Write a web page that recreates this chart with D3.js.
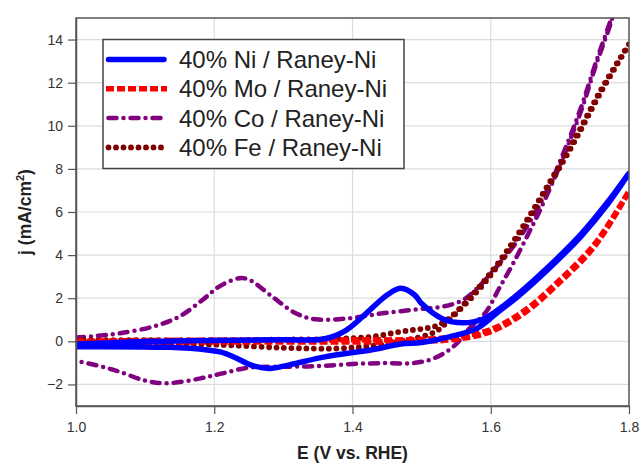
<!DOCTYPE html>
<html>
<head>
<meta charset="utf-8">
<script src="https://cdn.jsdelivr.net/npm/d3@7"></script>
<style>
  body { margin: 0; background: #fff; }
  text { font-family: "Liberation Sans", Arial, sans-serif; }
</style>
</head>
<body>
<script>
// Cyclic voltammograms: [E (V vs. RHE), j (mA/cm2)],
// anodic sweep first, then the return sweep
var niLoop = [
  [1.00, -0.12], [1.05, -0.06], [1.10, -0.01], [1.20, 0.04], [1.30, 0.07], [1.36, 0.12],
  [1.39, 0.5], [1.42, 1.3], [1.45, 2.15], [1.47, 2.46], [1.49, 2.15], [1.50, 1.75],
  [1.53, 1.05], [1.56, 0.86], [1.59, 1.05], [1.61, 1.45], [1.64, 2.2], [1.68, 3.35],
  [1.73, 4.95], [1.77, 6.5], [1.80, 7.8],
  [1.77, 6.4], [1.73, 4.85], [1.68, 3.25], [1.64, 2.1], [1.61, 1.35], [1.58, 0.6],
  [1.54, 0.21], [1.50, -0.05], [1.47, -0.12], [1.43, -0.38], [1.36, -0.72], [1.31, -1.08],
  [1.28, -1.26], [1.255, -1.12], [1.23, -0.75], [1.21, -0.5], [1.19, -0.4], [1.135, -0.28],
  [1.00, -0.25]
];
var moLoop = [
  [1.00, 0.0], [1.10, 0.04], [1.20, 0.05], [1.30, 0.06], [1.40, 0.07], [1.50, 0.09],
  [1.55, 0.22], [1.60, 0.55], [1.65, 1.45], [1.70, 2.85], [1.75, 4.5], [1.80, 6.96],
  [1.75, 4.4], [1.70, 2.75], [1.65, 1.35], [1.60, 0.45], [1.55, 0.1], [1.50, 0.0],
  [1.40, -0.03], [1.20, -0.03], [1.00, -0.05]
];
var coLoop = [
  [1.00, 0.18], [1.03, 0.25], [1.063, 0.37], [1.111, 0.68], [1.149, 1.14], [1.183, 1.92],
  [1.207, 2.54], [1.236, 2.93], [1.251, 2.85], [1.284, 2.07], [1.318, 1.3], [1.347, 1.02],
  [1.395, 1.07], [1.443, 1.3], [1.496, 1.49], [1.53, 1.61], [1.559, 1.9], [1.58, 2.45],
  [1.602, 3.22], [1.641, 4.77], [1.68, 6.9], [1.713, 9.36], [1.733, 11.07], [1.752, 12.93],
  [1.774, 14.94], [1.785, 16.0],
  [1.774, 14.8], [1.752, 12.8], [1.733, 10.9], [1.713, 9.2], [1.694, 7.7], [1.67, 6.0],
  [1.651, 4.77], [1.631, 3.53], [1.612, 2.45], [1.593, 1.36], [1.569, 0.59], [1.545, -0.27],
  [1.516, -0.81], [1.487, -1.01], [1.448, -1.01], [1.40, -1.05], [1.35, -1.15], [1.30, -1.18],
  [1.25, -1.22], [1.21, -1.5], [1.18, -1.72], [1.13, -1.95], [1.10, -1.82], [1.063, -1.41],
  [1.038, -1.18], [1.00, -0.9]
];
var feLoop = [
  [1.00, 0.05], [1.10, 0.05], [1.20, 0.05], [1.30, 0.08], [1.38, 0.12], [1.43, 0.22],
  [1.47, 0.45], [1.50, 0.58], [1.52, 0.7], [1.54, 1.07], [1.58, 2.4], [1.61, 3.6],
  [1.64, 5.0], [1.68, 7.1], [1.72, 9.3], [1.76, 11.7], [1.80, 13.78],
  [1.76, 11.6], [1.72, 9.2], [1.68, 7.0], [1.64, 4.9], [1.61, 3.5], [1.58, 2.3],
  [1.54, 1.0], [1.52, 0.45], [1.47, 0.0], [1.43, -0.2], [1.38, -0.33], [1.30, -0.3],
  [1.20, -0.15], [1.10, -0.1], [1.00, -0.05]
];

var seriesNames = ["40% Ni / Raney-Ni", "40% Mo / Raney-Ni", "40% Co / Raney-Ni", "40% Fe / Raney-Ni"];
var xTicks = [1.0, 1.2, 1.4, 1.6, 1.8];
var yTicks = [-2, 0, 2, 4, 6, 8, 10, 12, 14];

var styles = [
  { color: "#0000ff", width: 5.5, dash: null, cap: "round" },
  { color: "#ff0000", width: 5.5, dash: "8 3", cap: "butt" },
  { color: "#800080", width: 4.5, dash: "8 7 0 7", cap: "round" },
  { color: "#800000", width: 5.8, dash: "0 7.5", cap: "round" }
];
var loops = [niLoop, moLoop, coLoop, feLoop];

var margin = { top: 18, right: 11, bottom: 58, left: 76 },
  width = 640 - margin.left - margin.right,
  height = 464 - margin.top - margin.bottom;

var x = d3.scaleLinear().domain([1.0, 1.8]).range([0, width]);
var y = d3.scaleLinear().domain([-3, 15]).range([height, 0]);

var svg = d3.select("body").append("svg")
  .attr("width", 640)
  .attr("height", 464)
  .append("g")
  .attr("transform", "translate(" + margin.left + "," + margin.top + ")");

svg.append("defs").append("clipPath")
  .attr("id", "plotClip")
  .append("rect")
  .attr("width", width)
  .attr("height", height);

// grid
svg.append("g").selectAll("line.h")
  .data(yTicks)
  .enter().append("line")
  .attr("x1", 0).attr("x2", width)
  .attr("y1", function(d) { return y(d); })
  .attr("y2", function(d) { return y(d); })
  .style("stroke", "#dcdcdc").style("stroke-width", 1.2);
svg.append("g").selectAll("line.v")
  .data(xTicks.slice(1, -1))
  .enter().append("line")
  .attr("y1", 0).attr("y2", height)
  .attr("x1", function(d) { return x(d); })
  .attr("x2", function(d) { return x(d); })
  .style("stroke", "#dcdcdc").style("stroke-width", 1.2);

// curves
var line = d3.line()
  .x(function(d) { return x(d[0]); })
  .y(function(d) { return y(d[1]); })
  .curve(d3.curveCatmullRom.alpha(0.5));

var curves = svg.append("g").attr("clip-path", "url(#plotClip)");
// draw Ni and Mo on top of Co and Fe
[2, 3, 1, 0].forEach(function(i) {
  var s = styles[i];
  curves.append("path")
    .attr("d", line(loops[i]))
    .style("fill", "none")
    .style("stroke", s.color)
    .style("stroke-width", s.width)
    .style("stroke-linecap", s.cap)
    .style("stroke-linejoin", "round")
    .style("stroke-dasharray", s.dash);
});

// frame
svg.append("rect")
  .attr("width", width).attr("height", height)
  .style("fill", "none").style("stroke", "#555").style("stroke-width", 1.5);

// axes
var xAxis = d3.axisBottom(x).tickValues(xTicks).tickFormat(d3.format(".1f"))
  .tickSizeInner(8).tickSizeOuter(0).tickPadding(8);
var yAxis = d3.axisLeft(y).tickValues(yTicks).tickFormat(d3.format("d"))
  .tickSizeInner(8).tickSizeOuter(0).tickPadding(5);

var gx = svg.append("g")
  .attr("transform", "translate(0," + height + ")")
  .call(xAxis);
var gy = svg.append("g").call(yAxis);

[gx, gy].forEach(function(g) {
  g.select(".domain").style("stroke", "#555").style("stroke-width", 1.5);
  g.selectAll(".tick line").style("stroke", "#555").style("stroke-width", 1.2);
  g.selectAll(".tick text")
    .style("font-family", "'Liberation Sans', Arial, sans-serif")
    .style("font-size", "14px")
    .style("fill", "#333");
});

// axis titles
svg.append("text")
  .attr("x", width / 2)
  .attr("y", height + 53)
  .attr("text-anchor", "middle")
  .style("font-size", "17.5px")
  .style("font-weight", "bold")
  .style("fill", "#222")
  .text("E (V vs. RHE)");

var yTitle = svg.append("text")
  .attr("transform", "translate(" + (-45) + "," + (height / 2) + ") rotate(-90)")
  .attr("text-anchor", "middle")
  .style("font-size", "17.5px")
  .style("font-weight", "bold")
  .style("fill", "#222");
yTitle.append("tspan").text("j (mA/cm");
yTitle.append("tspan").attr("dy", -7).style("font-size", "11px").text("2");
yTitle.append("tspan").attr("dy", 7).text(")");

// legend
var legend = svg.append("g").attr("transform", "translate(" + (103 - margin.left) + "," + (39.5 - margin.top) + ")");
legend.append("rect")
  .attr("width", 301).attr("height", 129)
  .style("fill", "#fff").style("stroke", "#444").style("stroke-width", 1.5);

seriesNames.forEach(function(name, i) {
  var s = styles[i];
  var row = legend.append("g").attr("transform", "translate(0," + (20 + i * 29.3) + ")");
  row.append("line")
    .attr("x1", s.cap === "round" ? 5.5 : 3).attr("x2", s.cap === "round" ? 61 : 64)
    .style("stroke", s.color)
    .style("stroke-width", s.width)
    .style("stroke-linecap", s.cap)
    .style("stroke-dasharray", s.dash);
  row.append("text")
    .attr("x", 76)
    .attr("y", 8.5)
    .style("font-size", "24px")
    .style("fill", "#222")
    .text(name);
});
</script>
</body>
</html>
